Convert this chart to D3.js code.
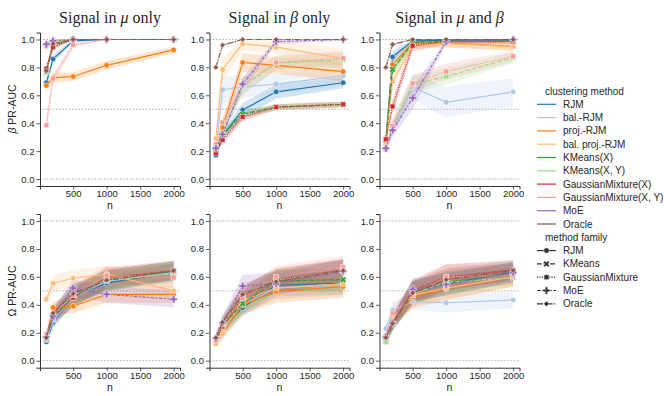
<!DOCTYPE html>
<html>
<head>
<meta charset="utf-8">
<script src="https://cdn.jsdelivr.net/npm/d3@7"></script>
<style>
  body { margin: 0; background: #fff; }
  svg text { font-family: "Liberation Sans", Arial, sans-serif; fill: #262626; }
</style>
</head>
<body>
<div id="chart"></div>
<script>
// chart data
var nValues = [100, 200, 500, 1000, 2000];
var xTicks = [500, 1000, 1500, 2000];
var yTicks = [0, 0.2, 0.4, 0.6, 0.8, 1.0];

var methods = ["RJM", "bal.-RJM", "proj.-RJM", "bal. proj.-RJM", "KMeans(X)",
  "KMeans(X, Y)", "GaussianMixture(X)", "GaussianMixture(X, Y)", "MoE", "Oracle"];
var methodFamily = ["RJM", "RJM", "RJM", "RJM", "KMeans", "KMeans",
  "GaussianMixture", "GaussianMixture", "MoE", "Oracle"];
var families = ["RJM", "KMeans", "GaussianMixture", "MoE", "Oracle"];
var colors = ["#1f77b4", "#aec7e8", "#ff7f0e", "#ffbb78", "#2ca02c",
  "#98df8a", "#d62728", "#ff9896", "#9467bd", "#8c564b"];

// beta PR-AUC, signal in mu only (one row per method)
var betaMuOnly = [
  [0.69, 0.86, 0.99, 1.0, 1.0],
  [0.97, 1.0, 1.0, 1.0, 1.0],
  [0.67, 0.725, 0.735, 0.815, 0.925],
  [0.95, 0.99, 1.0, 1.0, 1.0],
  [0.765, 0.96, 1.0, 1.0, 1.0],
  [0.77, 0.975, 1.0, 1.0, 1.0],
  [0.79, 0.945, 1.0, 1.0, 1.0],
  [0.385, 0.72, 0.96, 1.0, 1.0],
  [0.965, 0.99, 1.0, 1.0, 1.0],
  [0.775, 0.97, 1.0, 1.0, 1.0]
];
var betaMuOnlyCI = [
  [0.03, 0.03, 0.01, 0, 0],
  [0.02, 0.01, 0, 0, 0],
  [0.03, 0.035, 0.03, 0.03, 0.025],
  [0.02, 0.01, 0, 0, 0],
  [0.03, 0.02, 0, 0, 0],
  [0.03, 0.02, 0, 0, 0],
  [0.03, 0.02, 0, 0, 0],
  [0.05, 0.04, 0.02, 0, 0],
  [0.02, 0.01, 0, 0, 0],
  [0.02, 0.01, 0, 0, 0]
];

// beta PR-AUC, signal in beta only
var betaBetaOnly = [
  [0.17, 0.31, 0.495, 0.625, 0.69],
  [0.20, 0.64, 0.66, 0.68, 0.74],
  [0.21, 0.37, 0.835, 0.815, 0.77],
  [0.29, 0.785, 0.97, 0.945, 0.865],
  [0.21, 0.32, 0.465, 0.515, 0.535],
  [0.22, 0.33, 0.66, 0.83, 0.855],
  [0.185, 0.28, 0.445, 0.515, 0.535],
  [0.25, 0.405, 0.67, 0.835, 0.865],
  [0.22, 0.32, 0.68, 0.985, 1.0],
  [0.80, 0.96, 1.0, 1.0, 1.0]
];
var betaBetaOnlyCI = [
  [0.01, 0.02, 0.05, 0.05, 0.04],
  [0.02, 0.09, 0.08, 0.07, 0.07],
  [0.02, 0.05, 0.07, 0.06, 0.07],
  [0.03, 0.08, 0.05, 0.05, 0.07],
  [0.01, 0.03, 0.03, 0.02, 0.02],
  [0.02, 0.04, 0.06, 0.05, 0.05],
  [0.01, 0.03, 0.03, 0.02, 0.02],
  [0.02, 0.04, 0.06, 0.05, 0.05],
  [0.02, 0.04, 0.05, 0.02, 0.01],
  [0.02, 0.01, 0, 0, 0]
];

// beta PR-AUC, signal in mu and beta
var betaBoth = [
  [0.28, 0.875, 0.99, 0.995, 0.995],
  [0.23, 0.37, 0.66, 0.55, 0.625],
  [0.27, 0.82, 0.975, 0.975, 0.95],
  [0.25, 0.70, 0.96, 0.97, 0.95],
  [0.28, 0.785, 0.975, 0.99, 0.99],
  [0.21, 0.37, 0.68, 0.735, 0.87],
  [0.285, 0.52, 0.955, 0.985, 0.985],
  [0.215, 0.38, 0.685, 0.77, 0.88],
  [0.22, 0.35, 0.58, 0.985, 1.0],
  [0.80, 0.965, 1.0, 1.0, 1.0]
];
var betaBothCI = [
  [0.02, 0.04, 0.01, 0.01, 0.01],
  [0.02, 0.05, 0.09, 0.11, 0.10],
  [0.02, 0.04, 0.03, 0.03, 0.03],
  [0.02, 0.05, 0.03, 0.03, 0.03],
  [0.02, 0.04, 0.02, 0.01, 0.01],
  [0.02, 0.05, 0.06, 0.06, 0.04],
  [0.02, 0.05, 0.04, 0.02, 0.02],
  [0.02, 0.05, 0.06, 0.06, 0.04],
  [0.02, 0.05, 0.08, 0.02, 0.01],
  [0.02, 0.01, 0, 0, 0]
];

// Omega PR-AUC, signal in mu only
var omegaMuOnly = [
  [0.135, 0.275, 0.46, 0.555, 0.635],
  [0.15, 0.29, 0.45, 0.57, 0.63],
  [0.16, 0.38, 0.39, 0.475, 0.475],
  [0.44, 0.555, 0.59, 0.62, 0.50],
  [0.16, 0.32, 0.46, 0.58, 0.64],
  [0.17, 0.33, 0.47, 0.58, 0.625],
  [0.17, 0.31, 0.45, 0.595, 0.645],
  [0.19, 0.33, 0.47, 0.61, 0.595],
  [0.17, 0.32, 0.52, 0.475, 0.44],
  [0.165, 0.34, 0.48, 0.575, 0.645]
];
var omegaMuOnlyCI = [
  [0.02, 0.04, 0.06, 0.06, 0.06],
  [0.03, 0.05, 0.06, 0.07, 0.07],
  [0.03, 0.05, 0.05, 0.06, 0.06],
  [0.03, 0.06, 0.06, 0.06, 0.06],
  [0.03, 0.05, 0.07, 0.07, 0.07],
  [0.03, 0.05, 0.07, 0.07, 0.07],
  [0.03, 0.05, 0.07, 0.07, 0.07],
  [0.03, 0.05, 0.07, 0.07, 0.07],
  [0.03, 0.05, 0.06, 0.06, 0.06],
  [0.03, 0.05, 0.07, 0.07, 0.07]
];

// Omega PR-AUC, signal in beta only
var omegaBetaOnly = [
  [0.14, 0.23, 0.38, 0.54, 0.555],
  [0.14, 0.24, 0.40, 0.52, 0.55],
  [0.14, 0.20, 0.40, 0.495, 0.53],
  [0.12, 0.21, 0.43, 0.52, 0.55],
  [0.15, 0.25, 0.41, 0.57, 0.58],
  [0.15, 0.26, 0.46, 0.58, 0.64],
  [0.15, 0.245, 0.46, 0.58, 0.65],
  [0.16, 0.26, 0.445, 0.60, 0.67],
  [0.16, 0.27, 0.535, 0.55, 0.64],
  [0.165, 0.275, 0.475, 0.565, 0.645]
];
var omegaBetaOnlyCI = [
  [0.03, 0.05, 0.06, 0.08, 0.08],
  [0.03, 0.05, 0.06, 0.08, 0.08],
  [0.03, 0.05, 0.07, 0.08, 0.08],
  [0.03, 0.05, 0.07, 0.08, 0.08],
  [0.03, 0.05, 0.07, 0.08, 0.08],
  [0.03, 0.05, 0.07, 0.08, 0.08],
  [0.03, 0.05, 0.07, 0.08, 0.08],
  [0.03, 0.05, 0.07, 0.08, 0.08],
  [0.03, 0.05, 0.08, 0.08, 0.08],
  [0.03, 0.05, 0.07, 0.08, 0.08]
];

// Omega PR-AUC, signal in mu and beta
var omegaBoth = [
  [0.15, 0.27, 0.49, 0.55, 0.635],
  [0.23, 0.36, 0.425, 0.415, 0.435],
  [0.15, 0.28, 0.455, 0.515, 0.60],
  [0.14, 0.30, 0.47, 0.52, 0.60],
  [0.135, 0.26, 0.49, 0.56, 0.63],
  [0.14, 0.27, 0.48, 0.56, 0.595],
  [0.17, 0.28, 0.50, 0.60, 0.65],
  [0.18, 0.34, 0.47, 0.60, 0.61],
  [0.17, 0.27, 0.51, 0.545, 0.63],
  [0.165, 0.265, 0.485, 0.58, 0.645]
];
var omegaBothCI = [
  [0.03, 0.05, 0.08, 0.08, 0.07],
  [0.03, 0.06, 0.06, 0.07, 0.06],
  [0.03, 0.05, 0.08, 0.08, 0.07],
  [0.03, 0.05, 0.08, 0.08, 0.07],
  [0.03, 0.05, 0.08, 0.08, 0.07],
  [0.03, 0.05, 0.08, 0.08, 0.07],
  [0.03, 0.05, 0.08, 0.09, 0.07],
  [0.03, 0.05, 0.08, 0.09, 0.07],
  [0.03, 0.05, 0.08, 0.08, 0.07],
  [0.03, 0.05, 0.08, 0.08, 0.07]
];

var panelTitles = [
  ["Signal in ", "μ", " only"],
  ["Signal in ", "β", " only"],
  ["Signal in ", "μ", " and ", "β"]
];

var panels = [
  { row: 0, col: 0, values: betaMuOnly, ci: betaMuOnlyCI },
  { row: 0, col: 1, values: betaBetaOnly, ci: betaBetaOnlyCI },
  { row: 0, col: 2, values: betaBoth, ci: betaBothCI },
  { row: 1, col: 0, values: omegaMuOnly, ci: omegaMuOnlyCI },
  { row: 1, col: 1, values: omegaBetaOnly, ci: omegaBetaOnlyCI },
  { row: 1, col: 2, values: omegaBoth, ci: omegaBothCI }
];

var svgWidth = 664;
var svgHeight = 396;
var panelLeft = [40, 209.5, 379.5];
var panelWidth = 140;
var rowTop = [32.5, 214];
var rowBottom = [186, 367.7];

// family styles: dashes (scaled by line width) and markers
var lw = 1.2;
var familyDash = {
  "RJM": null,
  "KMeans": [4, 1.5],
  "GaussianMixture": [1, 1],
  "MoE": [3, 1.25, 1.5, 1.25],
  "Oracle": [5, 1, 1, 1]
};
var familyMarker = {
  "RJM": d3.symbol(d3.symbolCircle, 24)(),
  "KMeans": d3.symbol(d3.symbolCross, 26)(),
  "GaussianMixture": d3.symbol(d3.symbolSquare, 24)(),
  "MoE": d3.symbol(d3.symbolCross, 30)(),
  "Oracle": d3.symbol(d3.symbolSquare, 16)()
};
var familyRotate = { "RJM": 0, "KMeans": 45, "GaussianMixture": 0, "MoE": 0, "Oracle": 45 };

function dashString(fam) {
  var d = familyDash[fam];
  return d ? d.map(function(v) { return v * lw; }).join(",") : null;
}

var svg = d3.select("#chart")
  .append("svg")
  .attr("width", svgWidth)
  .attr("height", svgHeight);

panels.forEach(function(p) {
  var x = d3.scaleLinear()
    .domain([5, 2095])
    .range([panelLeft[p.col], panelLeft[p.col] + panelWidth]);
  var y = d3.scaleLinear()
    .domain([-0.05, 1.05])
    .range([rowBottom[p.row], rowTop[p.row]]);

  var g = svg.append("g");

  // dotted reference lines
  [0, 0.5, 1.0].forEach(function(v) {
    g.append("line")
      .attr("x1", x.range()[0]).attr("x2", x.range()[1])
      .attr("y1", y(v)).attr("y2", y(v))
      .attr("stroke", "#a0a0a0")
      .attr("stroke-width", 0.8)
      .attr("stroke-dasharray", "1.6,1.6");
  });

  // confidence bands first, all below lines
  var area = d3.area()
    .x(function(d, i) { return x(nValues[i]); })
    .y0(function(d, i) { return y(d[0]); })
    .y1(function(d, i) { return y(d[1]); });

  methods.forEach(function(m, k) {
    var band = p.values[k].map(function(v, i) {
      return [Math.max(0, v - p.ci[k][i]), Math.min(1, v + p.ci[k][i])];
    });
    g.append("path")
      .datum(band)
      .attr("d", area)
      .attr("fill", colors[k])
      .attr("fill-opacity", 0.2);
  });

  var line = d3.line()
    .x(function(d, i) { return x(nValues[i]); })
    .y(function(d) { return y(d); });

  methods.forEach(function(m, k) {
    var fam = methodFamily[k];
    g.append("path")
      .datum(p.values[k])
      .attr("d", line)
      .attr("fill", "none")
      .attr("stroke", colors[k])
      .attr("stroke-width", lw)
      .attr("stroke-dasharray", dashString(fam));

    g.selectAll(null)
      .data(p.values[k])
      .enter()
      .append("path")
      .attr("d", familyMarker[fam])
      .attr("transform", function(d, i) {
        return "translate(" + x(nValues[i]) + "," + y(d) + ") rotate(" + familyRotate[fam] + ")";
      })
      .attr("fill", colors[k])
      .attr("stroke", "#fff")
      .attr("stroke-width", 0.5);
  });

  // axes
  var bottomAxis = d3.axisBottom(x).tickValues(xTicks).tickSize(3.5).tickPadding(1)
    .tickFormat(d3.format("d"));
  var leftAxis = d3.axisLeft(y).tickValues(yTicks).tickSize(3.5).tickPadding(2)
    .tickFormat(d3.format(".1f"));

  var xAxis = g.append("g")
    .attr("transform", "translate(0," + rowBottom[p.row] + ")")
    .call(bottomAxis);
  var yAxis = g.append("g")
    .attr("transform", "translate(" + panelLeft[p.col] + ",0)")
    .call(leftAxis);

  [xAxis, yAxis].forEach(function(a) {
    a.select(".domain").attr("stroke", "#333").attr("stroke-width", 1);
    a.selectAll(".tick line").attr("stroke", "#333").attr("stroke-width", 0.8);
    a.selectAll(".tick text")
      .style("font-family", "'Liberation Sans', Arial, sans-serif")
      .style("font-size", "9.5px")
      .attr("fill", "#262626");
  });

  // x axis label
  g.append("text")
    .attr("x", panelLeft[p.col] + panelWidth / 2)
    .attr("y", rowBottom[p.row] + 23)
    .attr("text-anchor", "middle")
    .style("font-size", "10.5px")
    .text("n");

  // titles on the top row
  if (p.row === 0) {
    var t = g.append("text")
      .attr("x", panelLeft[p.col] + panelWidth / 2)
      .attr("y", 23)
      .attr("text-anchor", "middle")
      .style("font-family", "'Liberation Serif', 'Times New Roman', serif")
      .style("font-size", "16px");
    panelTitles[p.col].forEach(function(s) {
      var isGreek = s === "μ" || s === "β";
      t.append("tspan")
        .style("font-style", isGreek ? "italic" : "normal")
        .text(s);
    });
  }
});

// y axis labels
var yLab1 = svg.append("text")
  .attr("transform", "translate(16,109) rotate(-90)")
  .attr("text-anchor", "middle")
  .style("font-size", "10.5px");
yLab1.append("tspan").style("font-style", "italic").text("β");
yLab1.append("tspan").text(" PR-AUC");

svg.append("text")
  .attr("transform", "translate(16,291) rotate(-90)")
  .attr("text-anchor", "middle")
  .style("font-size", "10.5px")
  .text("Ω PR-AUC");

// legend
var legend = svg.append("g");
var legendTop = 104.3;
var legendStep = 13.3;

legend.append("text")
  .attr("x", 545).attr("y", legendTop - legendStep + 3.5)
  .style("font-size", "10px")
  .text("clustering method");

methods.forEach(function(m, k) {
  var yy = legendTop + k * legendStep;
  legend.append("line")
    .attr("x1", 537).attr("x2", 556)
    .attr("y1", yy).attr("y2", yy)
    .attr("stroke", colors[k])
    .attr("stroke-width", lw);
  legend.append("text")
    .attr("x", 563).attr("y", yy + 3.5)
    .style("font-size", "10px")
    .text(m);
});

var famTop = legendTop + methods.length * legendStep;
legend.append("text")
  .attr("x", 545).attr("y", famTop + 3.5)
  .style("font-size", "10px")
  .text("method family");

families.forEach(function(f, k) {
  var yy = famTop + (k + 1) * legendStep;
  legend.append("line")
    .attr("x1", 537).attr("x2", 556)
    .attr("y1", yy).attr("y2", yy)
    .attr("stroke", "#333")
    .attr("stroke-width", lw)
    .attr("stroke-dasharray", dashString(f));
  legend.append("path")
    .attr("d", familyMarker[f])
    .attr("transform", "translate(546.5," + yy + ") rotate(" + familyRotate[f] + ")")
    .attr("fill", "#333")
    .attr("stroke", "#fff")
    .attr("stroke-width", 0.5);
  legend.append("text")
    .attr("x", 563).attr("y", yy + 3.5)
    .style("font-size", "10px")
    .text(f);
});
</script>
</body>
</html>
